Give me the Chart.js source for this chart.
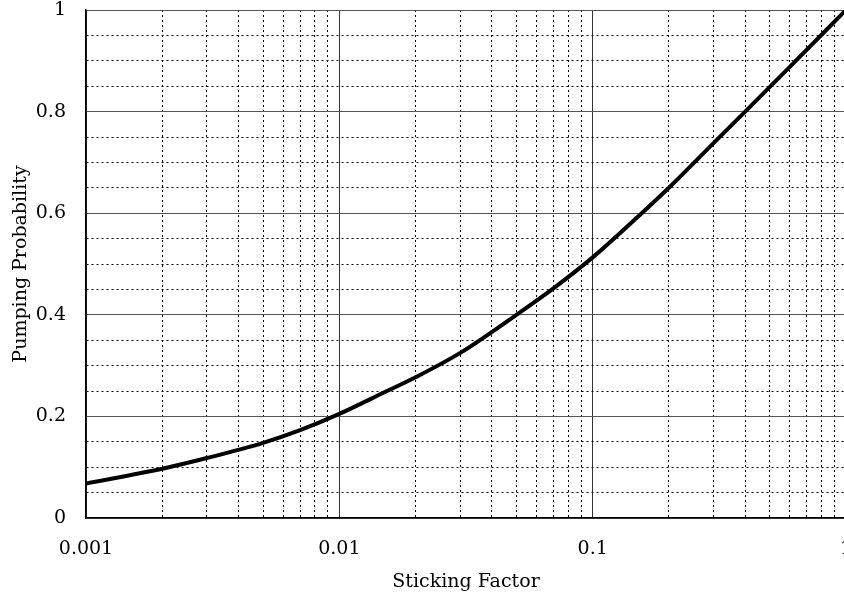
<!DOCTYPE html>
<html>
<head>
<meta charset="utf-8">
<script src="https://cdn.jsdelivr.net/npm/chart.js@4/dist/chart.umd.min.js"></script>
<style>
    html, body { margin: 0; padding: 0; overflow: hidden; background: #fff; }
    canvas { display: block; }
</style>
</head>
<body>
<canvas id="chart" width="856" height="596"></canvas>
<script>
// values
const stickingFactor = [0.001, 0.002, 0.003, 0.005, 0.007, 0.01, 0.015, 0.02, 0.03, 0.05, 0.07, 0.1, 0.15, 0.2, 0.3, 0.4, 0.6, 1];
const pumpingProb = [0.068, 0.097, 0.118, 0.148, 0.173, 0.205, 0.247, 0.277, 0.325, 0.4, 0.452, 0.513, 0.592, 0.65, 0.738, 0.8, 0.888, 1.0];

const xDecades = [0.001, 0.01, 0.1, 1];
const xDecadeLabels = ["0.001", "0.01", "0.1", "1"];
const yMajorTicks = [0, 0.2, 0.4, 0.6, 0.8, 1];
const yMajorLabels = ["0", "0.2", "0.4", "0.6", "0.8", "1"];

const serif = "'DejaVu Serif', 'Liberation Serif', serif";

function isXMajor(v) {
    return xDecades.some((d) => Math.abs(v - d) < d * 1e-6);
}
function isYMajor(v) {
    return yMajorTicks.some((t) => Math.abs(v - t) < 1e-6);
}

new Chart(document.getElementById("chart"), {
    type: "line",
    data: {
        datasets: [
            {
                data: stickingFactor.map((x, i) => ({ x: x, y: pumpingProb[i] })),
                borderColor: "#000",
                borderWidth: 4,
                pointRadius: 0,
                cubicInterpolationMode: "monotone",
                fill: false,
            },
        ],
    },
    options: {
        responsive: false,
        animation: false,
        devicePixelRatio: 1,
        layout: { padding: { top: 10, right: 10, left: 0, bottom: 0 } },
        plugins: { legend: { display: false }, tooltip: { enabled: false } },
        scales: {
            x: {
                type: "logarithmic",
                min: 0.001,
                max: 1,
                afterBuildTicks(scale) {
                    const ticks = [];
                    xDecades.forEach((d, i) => {
                        if (i === xDecades.length - 1) {
                            ticks.push({ value: d });
                            return;
                        }
                        for (let m = 1; m <= 9; m++) {
                            ticks.push({ value: +(m * d).toPrecision(3) });
                        }
                    });
                    scale.ticks = ticks;
                },
                afterFit(scale) {
                    scale.height = 78;
                    scale.paddingLeft = 0;
                    scale.paddingRight = 0;
                },
                ticks: {
                    autoSkip: false,
                    maxRotation: 0,
                    padding: 20,
                    color: "#000",
                    font: { family: serif, size: 19 },
                    callback(value) {
                        const i = xDecades.findIndex((d) => Math.abs(value - d) < d * 1e-6);
                        return i >= 0 ? xDecadeLabels[i] : "";
                    },
                },
                grid: {
                    drawTicks: false,
                    color: (ctx) => (ctx.tick && isXMajor(ctx.tick.value) ? "#333" : "#000"),
                    lineWidth: 1,
                },
                border: {
                    color: "#000",
                    width: 1.5,
                    dash: (ctx) => (ctx.tick && !isXMajor(ctx.tick.value) ? [2, 3] : []),
                },
                title: {
                    display: true,
                    text: "Sticking Factor",
                    color: "#000",
                    font: { family: serif, size: 19 },
                    padding: { top: 0, bottom: 3 },
                },
            },
            y: {
                min: 0,
                max: 1,
                ticks: {
                    stepSize: 0.05,
                    autoSkip: false,
                    padding: 20,
                    color: "#000",
                    font: { family: serif, size: 19 },
                    callback(value) {
                        const i = yMajorTicks.findIndex((t) => Math.abs(value - t) < 1e-6);
                        return i >= 0 ? yMajorLabels[i] : "";
                    },
                },
                afterFit(scale) {
                    scale.width = 86;
                    scale.paddingTop = 0;
                    scale.paddingBottom = 0;
                },
                grid: {
                    drawTicks: false,
                    color: (ctx) => (ctx.tick && isYMajor(ctx.tick.value) ? "#555" : "#000"),
                    lineWidth: 1,
                },
                border: {
                    color: "#000",
                    width: 1.5,
                    dash: (ctx) => (ctx.tick && !isYMajor(ctx.tick.value) ? [2, 3] : []),
                },
                title: {
                    display: true,
                    text: "Pumping Probability",
                    color: "#000",
                    font: { family: serif, size: 19 },
                    padding: { top: 10, bottom: 0 },
                },
            },
        },
    },
});
</script>
</body>
</html>
